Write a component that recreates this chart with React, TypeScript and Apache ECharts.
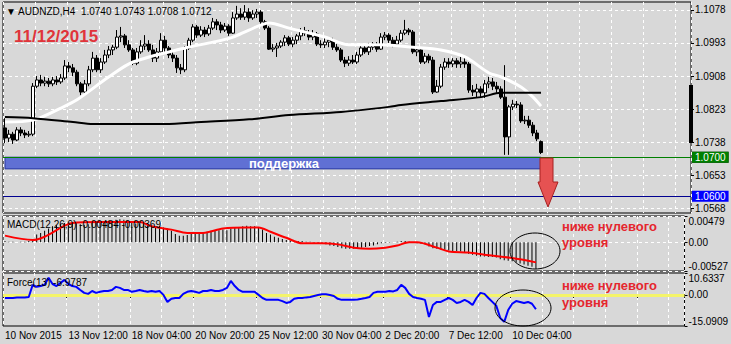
import React, { useEffect, useRef } from 'react';
import * as echarts from 'echarts';

const FONT = '"Liberation Sans", Arial, sans-serif';
const SLOT_COUNT = 172;

const tickBars = [0, 16, 32, 48, 64, 80, 96, 112, 128];
const tickLabels = ['10 Nov 2015', '13 Nov 12:00', '18 Nov 04:00', '20 Nov 20:00', '25 Nov 12:00', '30 Nov 04:00', '2 Dec 20:00', '7 Dec 12:00', '10 Dec 04:00'];

const priceTicks = [1.0568, 1.0653, 1.0738, 1.0823, 1.0908, 1.0993, 1.1078];
const macdTicks = [-0.00527, 0, 0.00479];
const forceTicks = [-15.0909, 0, 10.6337];

const opens = [
  1.0775, 1.0749, 1.0759, 1.0744, 1.0770, 1.0762, 1.0757, 1.0759, 1.0882, 1.0898,
  1.0890, 1.0895, 1.0888, 1.0898, 1.0893, 1.0903, 1.0934, 1.0929, 1.0918, 1.0888,
  1.0867, 1.0888, 1.0924, 1.0954, 1.0924, 1.0944, 1.0962, 1.0975, 1.0982, 1.1008,
  1.1011, 1.0988, 1.0975, 1.0941, 1.0970, 1.0985, 1.0990, 1.0975, 1.0954, 1.0970,
  1.1000, 1.0980, 1.0962, 1.0954, 1.0929, 1.0924, 1.0980, 1.1000, 1.1034, 1.1013,
  1.1026, 1.1016, 1.1031, 1.1047, 1.1039, 1.1026, 1.1036, 1.1018, 1.1057, 1.1067,
  1.1059, 1.1072, 1.1057, 1.1067, 1.1072, 1.1047, 1.1031, 1.0977, 1.0980, 1.0985,
  1.0995, 1.1006, 1.0990, 1.1000, 1.1011, 1.1024, 1.1018, 1.1008, 1.1016, 1.0990,
  1.0988, 1.0995, 1.1000, 1.0982, 1.0975, 1.0949, 1.0941, 1.0949, 1.0944, 1.0962,
  1.0980, 1.0970, 1.0982, 1.0990, 1.0977, 1.1008, 1.1013, 1.1000, 1.0990, 1.1000,
  1.1018, 1.1026, 1.1021, 1.0970, 1.0975, 1.0944, 1.0959, 1.0949, 1.0867, 1.0882,
  1.0931, 1.0944, 1.0939, 1.0947, 1.0939, 1.0944, 1.0939, 1.0872, 1.0867, 1.0875,
  1.0865, 1.0888, 1.0893, 1.0882, 1.0875, 1.0854, 1.0752, 1.0829, 1.0836, 1.0834,
  1.0793, 1.0795, 1.0782, 1.0762, 1.0740,
];
const closes = [
  1.0749, 1.0759, 1.0744, 1.0770, 1.0762, 1.0757, 1.0759, 1.0882, 1.0898, 1.0890,
  1.0895, 1.0888, 1.0898, 1.0893, 1.0903, 1.0934, 1.0929, 1.0918, 1.0888, 1.0867,
  1.0888, 1.0924, 1.0954, 1.0924, 1.0944, 1.0962, 1.0975, 1.0982, 1.1008, 1.1011,
  1.0988, 1.0975, 1.0941, 1.0970, 1.0985, 1.0990, 1.0975, 1.0954, 1.0970, 1.1000,
  1.0980, 1.0962, 1.0954, 1.0929, 1.0924, 1.0980, 1.1000, 1.1034, 1.1013, 1.1026,
  1.1016, 1.1031, 1.1047, 1.1039, 1.1026, 1.1036, 1.1018, 1.1057, 1.1067, 1.1059,
  1.1072, 1.1057, 1.1067, 1.1072, 1.1047, 1.1031, 1.0977, 1.0980, 1.0985, 1.0995,
  1.1006, 1.0990, 1.1000, 1.1011, 1.1024, 1.1018, 1.1008, 1.1016, 1.0990, 1.0988,
  1.0995, 1.1000, 1.0982, 1.0975, 1.0949, 1.0941, 1.0949, 1.0944, 1.0962, 1.0980,
  1.0970, 1.0982, 1.0990, 1.0977, 1.1008, 1.1013, 1.1000, 1.0990, 1.1000, 1.1018,
  1.1026, 1.1021, 1.0970, 1.0975, 1.0944, 1.0959, 1.0949, 1.0867, 1.0882, 1.0931,
  1.0944, 1.0939, 1.0947, 1.0939, 1.0944, 1.0939, 1.0872, 1.0867, 1.0875, 1.0865,
  1.0888, 1.0893, 1.0882, 1.0875, 1.0854, 1.0752, 1.0829, 1.0836, 1.0834, 1.0793,
  1.0795, 1.0782, 1.0762, 1.0747, 1.0712,
];
const lows = [
  1.0736, 1.0739, 1.0734, 1.0741, 1.0754, 1.0749, 1.0752, 1.0754, 1.0877, 1.0882,
  1.0882, 1.0880, 1.0882, 1.0885, 1.0888, 1.0898, 1.0918, 1.0908, 1.0882, 1.0859,
  1.0862, 1.0882, 1.0918, 1.0918, 1.0916, 1.0939, 1.0954, 1.0962, 1.0977, 1.0995,
  1.0980, 1.0970, 1.0936, 1.0936, 1.0965, 1.0975, 1.0970, 1.0944, 1.0944, 1.0962,
  1.0970, 1.0954, 1.0944, 1.0916, 1.0913, 1.0918, 1.0975, 1.0995, 1.1006, 1.1008,
  1.1008, 1.1011, 1.1026, 1.1026, 1.1018, 1.1021, 1.1011, 1.1016, 1.1052, 1.1052,
  1.1052, 1.1047, 1.1052, 1.1057, 1.1041, 1.1026, 1.0975, 1.0970, 1.0957, 1.0980,
  1.0985, 1.0985, 1.0982, 1.0990, 1.1000, 1.1011, 1.1000, 1.1000, 1.0985, 1.0980,
  1.0980, 1.0982, 1.0975, 1.0970, 1.0944, 1.0931, 1.0934, 1.0939, 1.0939, 1.0957,
  1.0965, 1.0962, 1.0975, 1.0970, 1.0975, 1.1000, 1.0993, 1.0982, 1.0985, 1.0995,
  1.1013, 1.1013, 1.0965, 1.0959, 1.0939, 1.0939, 1.0941, 1.0862, 1.0865, 1.0877,
  1.0924, 1.0929, 1.0931, 1.0929, 1.0929, 1.0929, 1.0865, 1.0857, 1.0854, 1.0852,
  1.0852, 1.0877, 1.0872, 1.0865, 1.0849, 1.0706, 1.0706, 1.0821, 1.0826, 1.0788,
  1.0785, 1.0775, 1.0754, 1.0741, 1.0708,
];
const highs = [
  1.0800, 1.0770, 1.0765, 1.0777, 1.0777, 1.0770, 1.0767, 1.0890, 1.0908, 1.0911,
  1.0906, 1.0903, 1.0906, 1.0908, 1.0913, 1.0949, 1.0944, 1.0939, 1.0924, 1.0893,
  1.0898, 1.0934, 1.0970, 1.0962, 1.0954, 1.0975, 1.0985, 1.0988, 1.1026, 1.1034,
  1.1016, 1.1000, 1.0980, 1.0980, 1.1000, 1.1013, 1.1000, 1.0988, 1.0980, 1.1018,
  1.1011, 1.0985, 1.0970, 1.0962, 1.0939, 1.0985, 1.1006, 1.1041, 1.1039, 1.1036,
  1.1034, 1.1039, 1.1057, 1.1054, 1.1047, 1.1044, 1.1041, 1.1072, 1.1088, 1.1082,
  1.1090, 1.1082, 1.1077, 1.1080, 1.1077, 1.1052, 1.1036, 1.0990, 1.0993, 1.1000,
  1.1013, 1.1011, 1.1008, 1.1016, 1.1031, 1.1034, 1.1026, 1.1026, 1.1021, 1.1000,
  1.1006, 1.1006, 1.1006, 1.0990, 1.0980, 1.0957, 1.0959, 1.0962, 1.0970, 1.0988,
  1.0990, 1.0993, 1.0995, 1.0995, 1.1018, 1.1021, 1.1018, 1.1008, 1.1011, 1.1026,
  1.1052, 1.1031, 1.1026, 1.0982, 1.0980, 1.0967, 1.0965, 1.0957, 1.0898, 1.0939,
  1.0954, 1.0954, 1.0954, 1.0954, 1.0957, 1.0954, 1.0944, 1.0885, 1.0888, 1.0882,
  1.0898, 1.0906, 1.0903, 1.0893, 1.0882, 1.0936, 1.0834, 1.0847, 1.0844, 1.0841,
  1.0806, 1.0806, 1.0790, 1.0770, 1.0743,
];

// moving averages, read at sampled bars
const fastMaBars = [0, 7, 14, 18, 26, 32, 45, 52, 57, 61, 66, 71, 80, 86, 94, 102, 109, 115, 121, 124, 129, 132, 134];
const fastMaVals = [1.0790, 1.0795, 1.0826, 1.0847, 1.0906, 1.0944, 1.0980, 1.0995, 1.1008, 1.1026, 1.1044, 1.1031, 1.1008, 1.0988, 1.0988, 1.0982, 1.0975, 1.0957, 1.0916, 1.0906, 1.0880, 1.0854, 1.0831];
const slowMaBars = [0, 7, 17, 22, 40, 49, 61, 71, 84, 96, 99, 109, 119, 124, 134];
const slowMaVals = [1.0803, 1.0800, 1.0790, 1.0785, 1.0785, 1.0790, 1.0797, 1.0808, 1.0816, 1.0829, 1.0834, 1.0844, 1.0854, 1.0865, 1.0865];

const macdMain = [
  0.0002, 0.0001, 0.0001, 0.0000, 0.0001, 0.0001, 0.0002, 0.0006, 0.0014, 0.0017,
  0.0021, 0.0025, 0.0029, 0.0031, 0.0033, 0.0035, 0.0036, 0.0036, 0.0035, 0.0033,
  0.0032, 0.0033, 0.0035, 0.0035, 0.0036, 0.0037, 0.0038, 0.0039, 0.0041, 0.0042,
  0.0041, 0.0039, 0.0035, 0.0034, 0.0034, 0.0035, 0.0033, 0.0029, 0.0027, 0.0029,
  0.0027, 0.0025, 0.0021, 0.0015, 0.0012, 0.0012, 0.0013, 0.0017, 0.0017, 0.0017,
  0.0018, 0.0019, 0.0021, 0.0022, 0.0022, 0.0023, 0.0022, 0.0025, 0.0027, 0.0028,
  0.0029, 0.0030, 0.0029, 0.0029, 0.0026, 0.0023, 0.0017, 0.0014, 0.0010, 0.0008,
  0.0006, 0.0004, 0.0003, 0.0002, 0.0002, 0.0002, 0.0001, 0.0001, -0.0001, -0.0002,
  -0.0003, -0.0004, -0.0006, -0.0007, -0.0009, -0.0011, -0.0012, -0.0012, -0.0012, -0.0011,
  -0.0010, -0.0009, -0.0007, -0.0006, -0.0004, -0.0002, -0.0001, -0.0001, 0.0000, 0.0001,
  0.0002, 0.0002, 0.0001, 0.0000, -0.0002, -0.0003, -0.0004, -0.0008, -0.0011, -0.0012,
  -0.0013, -0.0014, -0.0015, -0.0016, -0.0016, -0.0017, -0.0019, -0.0021, -0.0023, -0.0025,
  -0.0026, -0.0026, -0.0027, -0.0027, -0.0028, -0.0031, -0.0033, -0.0034, -0.0035, -0.0037,
  -0.0039, -0.0041, -0.0043, -0.0045, -0.00484,
];
const signalBars = [0, 7, 10, 17, 24, 34, 37, 42, 46, 50, 55, 61, 64, 67, 71, 75, 80, 84, 88, 92, 96, 99, 102, 104, 109, 112, 117, 121, 128, 134];
const signalVals = [0.0012, 0.0004, 0.0010, 0.0035, 0.0037, 0.0037, 0.0029, 0.0023, 0.0017, 0.0017, 0.0025, 0.0027, 0.0027, 0.0019, 0.0008, -0.0002, -0.0002, -0.0004, -0.0010, -0.0012, -0.0010, -0.0006, 0.0000, 0.0000, -0.0010, -0.0017, -0.0019, -0.0023, -0.0029, -0.00369];

const forceVals = [
  -1.5, -1.5, -1.5, -1.3, -1.3, -1.3, -1.0, 4.9, 3.9, 4.3,
  4.9, 8.3, 5.3, 4.3, 5.8, 7.3, 5.3, 4.3, 3.9, 2.4,
  1.0, 0.5, 1.9, 1.0, 1.5, 1.9, 1.9, 2.4, 3.9, 3.4,
  2.4, 2.4, 1.5, 1.9, 2.4, 1.9, 1.5, 1.9, 1.5, 1.9,
  0.0, -3.4, -1.9, -1.5, -1.5, 0.5, 1.5, 1.9, 1.5, 1.0,
  1.9, 1.9, 2.4, 1.9, 1.9, 2.4, 3.4, 6.8, 4.3, 2.4,
  1.5, 1.5, 1.5, 1.5, 0.0, -1.5, -2.4, -2.4, -2.4, -2.4,
  -3.0, -3.9, -3.4, -1.9, -1.5, -1.5, -1.2, -1.0, -0.5, 0.0,
  0.3, 0.3, 0.0, -0.5, -1.9, -2.4, -2.4, -2.4, -2.4, -2.2,
  -1.9, -1.5, -1.0, 1.0, 1.5, 1.5, 1.5, 1.9, 1.7, 2.4,
  4.9, 3.4, 0.5, -1.0, -1.5, -1.9, -2.4, -10.7, -4.9, -3.4,
  -3.4, -2.4, -1.5, -2.4, -3.9, -3.4, -2.4, -3.4, -4.9, -1.5,
  1.0, 0.5, -1.5, -3.4, -5.3, -11.2, -13.1, -7.3, -4.3, -3.0,
  -3.4, -3.9, -3.4, -4.3, -6.9787,
];

const supportTop = 1.0700;
const supportBottom = 1.0670;
const supportEndBar = 134;
const levelGreen = 1.0700;
const levelBlue = 1.0600;
const bidPrice = 1.0712;

const slots = Array.from({ length: SLOT_COUNT }, (_, i) => String(i));

function sparse(bars: number[], vals: number[], len: number) {
  const out: (number | null)[] = new Array(len).fill(null);
  bars.forEach((b, k) => { out[b] = vals[k]; });
  return out;
}

const gridLine = { color: '#ffffff', type: [3, 3] as number[], width: 1 };

export default function App() {
  const ref = useRef<HTMLDivElement>(null);
  useEffect(() => {
    if (!ref.current) return;
    const chart = echarts.init(ref.current, undefined, { renderer: 'svg' });
    const candles = opens.map((o, i) => [o, closes[i], lows[i], highs[i]]);
    const n = opens.length;
    const xAxes = [0, 1, 2].map((g) => ({
      type: 'category',
      gridIndex: g,
      data: slots,
      boundaryGap: true,
      axisLine: { show: false },
      axisTick: { show: g === 2, interval: 15, length: 3, lineStyle: { color: '#000' } },
      axisLabel: {
        show: g === 2,
        interval: 15,
        align: 'left',
        margin: 4,
        fontSize: 10,
        color: '#000',
        fontFamily: FONT,
        formatter: (_v: string, idx: number) => {
          const k = tickBars.indexOf(idx);
          return k >= 0 ? tickLabels[k] : '';
        },
      },
      splitLine: { show: true, interval: 7, lineStyle: gridLine },
    }));
    const yLabel = { fontSize: 10, color: '#000', fontFamily: FONT, margin: 4 };
    const option: any = {
      animation: false,
      backgroundColor: '#d8d8d8',
      textStyle: { fontFamily: FONT },
      grid: [
        { left: 3, top: 2, width: 688, height: 211, show: true, borderColor: '#000', borderWidth: 1, backgroundColor: 'transparent' },
        { left: 3, top: 216, width: 688, height: 55, show: true, borderColor: '#000', borderWidth: 1, backgroundColor: 'transparent' },
        { left: 3, top: 273, width: 688, height: 53, show: true, borderColor: '#000', borderWidth: 1, backgroundColor: 'transparent' },
      ],
      xAxis: xAxes,
      yAxis: [
        {
          type: 'value', gridIndex: 0, position: 'right', min: 1.05569, max: 1.10979,
          axisLine: { show: false },
          axisTick: { show: true, length: 3, customValues: priceTicks, lineStyle: { color: '#000' } },
          axisLabel: { ...yLabel, customValues: priceTicks, formatter: (v: number) => v.toFixed(4) },
          splitLine: { show: true, lineStyle: gridLine },
        },
        {
          type: 'value', gridIndex: 1, position: 'right', min: macdTicks[0], max: macdTicks[2],
          axisLine: { show: false },
          axisTick: { show: true, length: 3, customValues: macdTicks, lineStyle: { color: '#000' } },
          axisLabel: {
            ...yLabel, customValues: macdTicks, verticalAlignMinLabel: 'bottom', verticalAlignMaxLabel: 'top',
            formatter: (v: number) => (Math.abs(v) < 1e-9 ? '0.00' : v.toFixed(5)),
          },
          splitLine: { show: true, lineStyle: gridLine },
        },
        {
          type: 'value', gridIndex: 2, position: 'right', min: forceTicks[0], max: forceTicks[2],
          axisLine: { show: false },
          axisTick: { show: true, length: 3, customValues: forceTicks, lineStyle: { color: '#000' } },
          axisLabel: {
            ...yLabel, customValues: forceTicks, verticalAlignMinLabel: 'bottom', verticalAlignMaxLabel: 'top',
            formatter: (v: number) => (Math.abs(v) < 1e-9 ? '0.00' : v.toFixed(4)),
          },
          splitLine: { show: false },
        },
      ],
      series: [
        {
          type: 'candlestick', xAxisIndex: 0, yAxisIndex: 0, data: candles, barWidth: 3,
          itemStyle: { color: '#ffffff', color0: '#000000', borderColor: '#000000', borderColor0: '#000000', borderWidth: 1 },
          markArea: {
            silent: true,
            itemStyle: { color: '#6070d4', borderColor: '#2a38a0', borderWidth: 1 },
            label: { show: true, position: 'inside', formatter: 'поддержка', color: '#ffffff', fontWeight: 'bold', fontSize: 13, fontFamily: FONT, offset: [11, 0] },
            data: [[{ xAxis: 0, yAxis: supportTop }, { xAxis: supportEndBar, yAxis: supportBottom }]],
          },
          markLine: {
            silent: true, symbol: ['none', 'none'],
            data: [
              { yAxis: bidPrice, lineStyle: { color: '#ffffff', type: 'solid', width: 1 },
                label: { show: true, position: 'end', distance: 1, formatter: '1.0712', color: '#ffffff', backgroundColor: '#000000', padding: [1, 3, 0, 3], fontSize: 10, fontFamily: FONT } },
              { yAxis: levelGreen, lineStyle: { color: '#008000', type: 'solid', width: 1 },
                label: { show: true, position: 'end', distance: 1, formatter: '1.0700', color: '#ffffff', backgroundColor: '#008000', padding: [1, 3, 0, 3], fontSize: 10, fontFamily: FONT } },
              { yAxis: levelBlue, lineStyle: { color: '#000090', type: 'solid', width: 1 },
                label: { show: true, position: 'end', distance: 1, formatter: '1.0600', color: '#ffffff', backgroundColor: '#0000ff', padding: [1, 3, 0, 3], fontSize: 10, fontFamily: FONT } },
            ],
          },
        },
        {
          type: 'line', xAxisIndex: 0, yAxisIndex: 0, data: sparse(fastMaBars, fastMaVals, n), connectNulls: true,
          smooth: 0.3, showSymbol: false, symbol: 'none', lineStyle: { color: '#ffffff', width: 3 }, z: 3,
        },
        {
          type: 'line', xAxisIndex: 0, yAxisIndex: 0, data: sparse(slowMaBars, slowMaVals, n), connectNulls: true,
          smooth: 0.3, showSymbol: false, symbol: 'none', lineStyle: { color: '#000000', width: 2 }, z: 3,
        },
        {
          type: 'bar', xAxisIndex: 1, yAxisIndex: 1, data: macdMain, barWidth: 1, itemStyle: { color: '#000000' },
        },
        {
          type: 'line', xAxisIndex: 1, yAxisIndex: 1, data: sparse(signalBars, signalVals, n), connectNulls: true,
          smooth: 0.3, showSymbol: false, symbol: 'none', lineStyle: { color: '#ff0000', width: 2 }, z: 4,
        },
        {
          type: 'line', xAxisIndex: 2, yAxisIndex: 2, data: forceVals, showSymbol: false, symbol: 'none',
          lineStyle: { color: '#0000ff', width: 2 }, z: 8,
          markLine: {
            silent: true, symbol: ['none', 'none'], z: 3,
            label: { show: false },
            lineStyle: { color: '#f4f46a', type: 'solid', width: 3 },
            data: [{ yAxis: 0 }],
          },
        },
      ],
      graphic: [
        { type: 'polygon', z: 100, shape: { points: [[540, 158], [553, 158], [553, 182], [558, 182], [548, 207], [538, 182], [540, 182]] }, style: { fill: '#e65252', stroke: '#a82020', lineWidth: 1 } },
        { type: 'rect', z: 100, shape: { x: 689, y: 85, width: 4, height: 58 }, style: { fill: '#000000' } },
        { type: 'text', z: 100, left: 6, top: 6, style: { text: '▼ AUDNZD,H4  1.0740 1.0743 1.0708 1.0712', fontSize: 10, fontFamily: FONT, fill: '#000000' } },
        { type: 'text', z: 100, left: 14, top: 28, style: { text: '11/12/2015', fontSize: 17, fontWeight: 'bold', fontFamily: FONT, fill: '#e0343a' } },
        { type: 'text', z: 100, left: 7, top: 219, style: { text: 'MACD(12,26,9) -0.00484 -0.00369', fontSize: 10, fontFamily: FONT, fill: '#000000' } },
        { type: 'text', z: 100, left: 7, top: 277, style: { text: 'Force(13) -6.9787', fontSize: 10, fontFamily: FONT, fill: '#000000' } },
        { type: 'text', z: 100, left: 562, top: 220, style: { text: 'ниже нулевого', fontSize: 13, fontWeight: 'bold', fontFamily: FONT, fill: '#e5262e' } },
        { type: 'text', z: 100, left: 562, top: 236, style: { text: 'уровня', fontSize: 13, fontWeight: 'bold', fontFamily: FONT, fill: '#e5262e' } },
        { type: 'text', z: 100, left: 562, top: 279, style: { text: 'ниже нулевого', fontSize: 13, fontWeight: 'bold', fontFamily: FONT, fill: '#e5262e' } },
        { type: 'text', z: 100, left: 562, top: 296, style: { text: 'уровня', fontSize: 13, fontWeight: 'bold', fontFamily: FONT, fill: '#e5262e' } },
        { type: 'ellipse', z: 100, shape: { cx: 535, cy: 251, rx: 25, ry: 18 }, style: { fill: 'none', stroke: '#000000', lineWidth: 1 } },
        { type: 'ellipse', z: 100, shape: { cx: 523, cy: 308, rx: 28, ry: 18 }, style: { fill: 'none', stroke: '#000000', lineWidth: 1 } },
      ],
    };
    chart.setOption(option);
    return () => chart.dispose();
  }, []);
  return <div ref={ref} style={{ position: 'absolute', left: 0, top: 0, width: 731, height: 344 }} />;
}
